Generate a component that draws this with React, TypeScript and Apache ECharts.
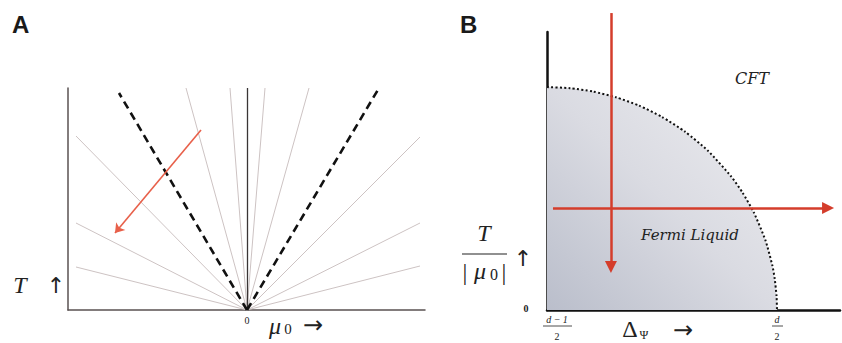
import React, { useEffect, useRef } from "react";
import * as echarts from "echarts";

// ---------- Panel A data (μ0 offset from origin, T) ----------
const fanEndsA: number[][] = [
  [-61, 222], [-17, 222], [-171, 174], [-171, 87], [-171, 43],
  [18, 222], [62, 222], [173, 173], [173, 87], [173, 44],
];
const criticalEndsA: number[][] = [[-128, 217], [132, 222]];
const centerLineA: number[][] = [[0, 0], [0, 222]];
const flowArrowA: number[][] = [[-46, 180], [-132, 77]];

// ---------- Panel B data (ΔΨ normalised: (d-1)/2 -> 0, d/2 -> 1 ; T/|μ0|) ----------
const boundaryX = [0, 0.1, 0.2, 0.3, 0.4, 0.5, 0.6, 0.7, 0.8, 0.85, 0.9, 0.95, 0.98, 0.99, 0.998, 1.0];
const boundaryY = [1, 0.995, 0.98, 0.954, 0.917, 0.866, 0.8, 0.714, 0.6, 0.527, 0.436, 0.312, 0.199, 0.141, 0.063, 0];
const verticalArrowB: number[][] = [[0.278, 1.332], [0.278, 0.193]];
const horizontalArrowB: number[][] = [[0.026, 0.457], [1.222, 0.457]];

const SERIF = '"Liberation Serif", "DejaVu Serif", serif';
const DSERIF = '"DejaVu Serif", "Liberation Serif", serif';
const SANS = '"Liberation Sans", Arial, sans-serif';
const ARROW = '"DejaVu Sans", "DejaVu Serif", sans-serif';

function txt(text: string, x: number, y: number, font: string, extra: any = {}) {
  return {
    type: "text",
    x,
    y,
    z: 100,
    silent: true,
    style: { text, font, fill: extra.fill || "#222", align: extra.align || "center", verticalAlign: "middle" },
  };
}
function hline(x1: number, x2: number, y: number, w = 1) {
  return { type: "line", z: 100, silent: true, shape: { x1, y1: y, x2, y2: y }, style: { stroke: "#222", lineWidth: w } };
}

export default function App() {
  const ref = useRef<HTMLDivElement>(null);
  useEffect(() => {
    if (!ref.current) return;
    const chart = echarts.init(ref.current, undefined, { renderer: "svg" });
    const axisCommon = {
      type: "value",
      axisTick: { show: false },
      axisLabel: { show: false },
      splitLine: { show: false },
    };
    const option: any = {
      animation: false,
      backgroundColor: "#ffffff",
      grid: [
        { left: 68, top: 88, width: 357, height: 222 },
        { left: 547, top: 32, width: 293, height: 278 },
      ],
      xAxis: [
        { ...axisCommon, gridIndex: 0, min: -179, max: 178, axisLine: { show: true, onZero: false, lineStyle: { color: "#5a5252", width: 1.5 } } },
        { ...axisCommon, gridIndex: 1, min: 0, max: 1.274, axisLine: { show: true, onZero: false, lineStyle: { color: "#111", width: 2.5 } } },
      ],
      yAxis: [
        { ...axisCommon, gridIndex: 0, min: 0, max: 222, axisLine: { show: true, onZero: false, lineStyle: { color: "#5a5252", width: 1.5 } } },
        { ...axisCommon, gridIndex: 1, min: 0, max: 1.247, axisLine: { show: true, onZero: false, lineStyle: { color: "#111", width: 2.5 } } },
      ],
      series: [
        {
          type: "lines",
          coordinateSystem: "cartesian2d",
          xAxisIndex: 0,
          yAxisIndex: 0,
          clip: false,
          silent: true,
          lineStyle: { color: "#cdc3c3", width: 1, opacity: 1 },
          data: fanEndsA.map((e) => ({ coords: [[0, 0], e] })),
        },
        {
          type: "lines",
          coordinateSystem: "cartesian2d",
          xAxisIndex: 0,
          yAxisIndex: 0,
          clip: false,
          silent: true,
          lineStyle: { color: "#3a3535", width: 1.3, opacity: 1 },
          data: [{ coords: centerLineA }],
        },
        {
          type: "lines",
          coordinateSystem: "cartesian2d",
          xAxisIndex: 0,
          yAxisIndex: 0,
          clip: false,
          silent: true,
          lineStyle: { color: "#111", width: 2.6, type: [8, 5], opacity: 1 },
          data: criticalEndsA.map((e) => ({ coords: [[0, 0], e] })),
        },
        {
          type: "lines",
          coordinateSystem: "cartesian2d",
          xAxisIndex: 0,
          yAxisIndex: 0,
          clip: false,
          silent: true,
          symbol: ["none", "arrow"],
          symbolSize: 9,
          lineStyle: { color: "#e8604a", width: 1.6, opacity: 1 },
          itemStyle: { color: "#e8604a" },
          data: [{ coords: flowArrowA }],
        },
        {
          type: "line",
          xAxisIndex: 1,
          yAxisIndex: 1,
          silent: true,
          showSymbol: false,
          symbol: "none",
          clip: false,
          smooth: 0.2,
          data: boundaryX.map((x, i) => [x, boundaryY[i]]),
          lineStyle: { color: "#111", width: 2, type: [2, 2.3] },
          areaStyle: {
            opacity: 1,
            color: new echarts.graphic.LinearGradient(0, 1, 1, 0, [
              { offset: 0, color: "#babecb" },
              { offset: 0.5, color: "#dadbe2" },
              { offset: 1, color: "#eeeef1" },
            ]),
          },
          z: 1,
        },
        {
          type: "lines",
          coordinateSystem: "cartesian2d",
          xAxisIndex: 1,
          yAxisIndex: 1,
          clip: false,
          silent: true,
          symbol: ["none", "triangle"],
          symbolSize: 12,
          lineStyle: { color: "#d43d2b", width: 2.5, opacity: 1 },
          itemStyle: { color: "#d43d2b" },
          data: [{ coords: verticalArrowB }, { coords: horizontalArrowB }],
          z: 3,
        },
      ],
      graphic: [
        txt("A", 12, 24, `bold 24px ${SANS}`, { align: "left", fill: "#1a1a1a" }),
        txt("T", 20, 285, `italic 24px ${SERIF}`),
        txt("↑", 56, 285, `22px ${ARROW}`),
        txt("0", 247, 320, `10px ${SERIF}`),
        txt("μ", 275, 326, `italic 24px ${SERIF}`),
        txt("0", 288, 329, `15px ${SERIF}`),
        txt("→", 313, 325, `24px ${ARROW}`),

        txt("B", 460, 24, `bold 24px ${SANS}`, { align: "left", fill: "#1a1a1a" }),
        txt("CFT", 752, 78, `italic 16px ${DSERIF}`),
        txt("Fermi Liquid", 690, 235, `italic 15px ${DSERIF}`),
        txt("T", 484, 233, `italic 24px ${SERIF}`),
        hline(462, 507, 254, 1.2),
        txt("|", 465, 272, `24px ${SERIF}`),
        txt("μ", 480, 271, `italic 24px ${SERIF}`),
        txt("0", 494, 274, `16px ${SERIF}`),
        txt("|", 504, 272, `24px ${SERIF}`),
        txt("↑", 523, 258, `22px ${ARROW}`),
        txt("0", 526, 308, `bold 10px ${SERIF}`),
        txt("d − 1", 557, 319, `italic 10px ${SERIF}`),
        hline(543, 572, 326, 0.8),
        txt("2", 557, 336, `10px ${SERIF}`),
        txt("d", 777, 319, `italic 10px ${SERIF}`),
        hline(772, 783, 326, 0.8),
        txt("2", 777, 336, `10px ${SERIF}`),
        txt("Δ", 630, 329, `24px ${SERIF}`),
        txt("Ψ", 644, 335, `12px ${SERIF}`),
        txt("→", 683, 330, `24px ${ARROW}`),
      ],
    };
    chart.setOption(option);
    return () => chart.dispose();
  }, []);
  return (
    <div
      ref={ref}
      style={{ position: "fixed", left: 0, top: 0, width: 842, height: 343, background: "#fff" }}
    />
  );
}
